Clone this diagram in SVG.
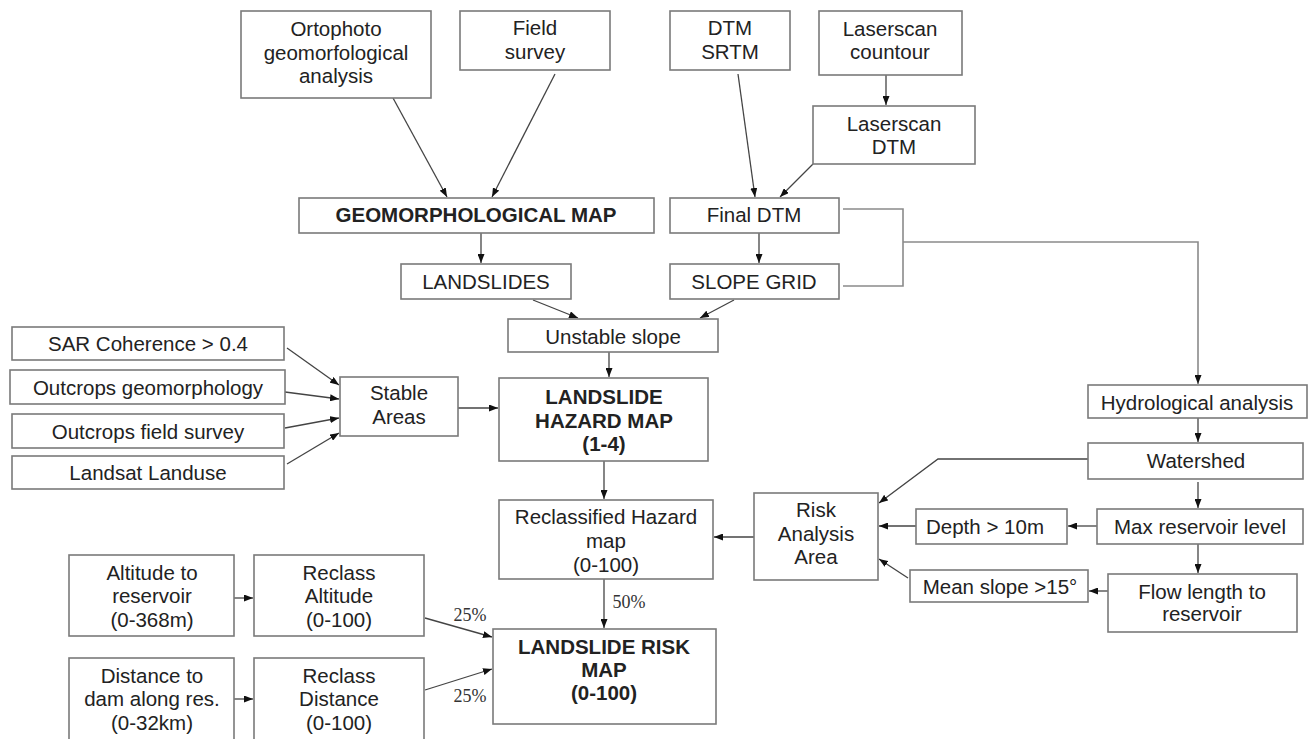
<svg xmlns="http://www.w3.org/2000/svg" width="1309" height="739" viewBox="0 0 1309 739">
<style>
  .box { fill: #ffffff; stroke: #7a7a7a; stroke-width: 1.6; }
  .t { font-family: "Liberation Sans", Arial, sans-serif; font-size: 20.5px; fill: #222222; text-anchor: middle; }
  .b { font-weight: bold; }
  .pct { font-family: "Liberation Serif", "Times New Roman", serif; font-size: 18px; fill: #333333; text-anchor: middle; }
  .c { fill: none; stroke: #444444; stroke-width: 1.3; }
  .a { marker-end: url(#arr); }
  .g { stroke: #8a8a8a; stroke-width: 1.6; }
</style>
<defs>
  <marker id="arr" markerUnits="userSpaceOnUse" markerWidth="9" markerHeight="7" refX="9" refY="3.5" orient="auto">
    <path d="M0,0 L9,3.5 L0,7 z" fill="#111111"/>
  </marker>
</defs>
<rect width="1309" height="739" fill="#ffffff"/>

<g id="connectors">
  <path class="c a" d="M393,98 L447,197"/>
  <path class="c a" d="M555,74 L492,197"/>
  <path class="c a" d="M738,74 L755,197"/>
  <path class="c a" d="M813,164 L780,197"/>
  <path class="c a" d="M886,75 L886,105"/>
  <path class="c a" d="M481,233 L481,263"/>
  <path class="c a" d="M759,233 L759,263"/>
  <path class="c a" d="M533,300 L578,318"/>
  <path class="c a" d="M734,300 L700,318"/>
  <path class="c a" d="M609,352 L609,377"/>
  <path class="c a" d="M287,348 L339,385"/>
  <path class="c a" d="M285,392 L339,399"/>
  <path class="c a" d="M285,428 L339,418"/>
  <path class="c a" d="M287,464 L339,433"/>
  <path class="c a" d="M458,408 L498,408"/>
  <path class="c a" d="M604,461 L604,499"/>
  <path class="c a" d="M604,579 L604,628"/>
  <path class="c a" d="M754,537 L714,537"/>
  <path class="c a" d="M234,598 L253,598"/>
  <path class="c a" d="M234,699 L253,699"/>
  <path class="c a" d="M425,618 L492,637"/>
  <path class="c a" d="M425,690 L492,669"/>
  <path class="c g" d="M843,209 L903,209 L903,286 L843,286"/>
  <path class="c g a" d="M903,242 L1198,242 L1198,384"/>
  <path class="c a" d="M1198,418 L1198,442"/>
  <path class="c a" d="M1088,459 L938,459 L879,503"/>
  <path class="c a" d="M1198,482 L1198,508"/>
  <path class="c a" d="M1097,526 L1068,526"/>
  <path class="c a" d="M916,526 L879,526"/>
  <path class="c a" d="M1198,544 L1198,573"/>
  <path class="c a" d="M1108,591 L1089,591"/>
  <path class="c a" d="M908,578 L879,559"/>
</g>

<g id="labels">
  <text class="pct" x="470" y="621">25%</text>
  <text class="pct" x="470" y="702">25%</text>
  <text class="pct" x="629" y="608">50%</text>
</g>

<g id="ortophoto"><rect class="box" x="241" y="11" width="190" height="87"/>
  <text class="t" x="336" y="36">Ortophoto</text><text class="t" x="336" y="60">geomorfological</text><text class="t" x="336" y="83">analysis</text></g>
<g id="field-survey"><rect class="box" x="460" y="11" width="150" height="59"/>
  <text class="t" x="535" y="35">Field</text><text class="t" x="535" y="59">survey</text></g>
<g id="dtm-srtm"><rect class="box" x="670" y="11" width="120" height="59"/>
  <text class="t" x="730" y="35">DTM</text><text class="t" x="730" y="59">SRTM</text></g>
<g id="laserscan-countour"><rect class="box" x="819" y="11" width="143" height="64"/>
  <text class="t" x="890" y="36">Laserscan</text><text class="t" x="890" y="59">countour</text></g>
<g id="laserscan-dtm"><rect class="box" x="813" y="106" width="162" height="58"/>
  <text class="t" x="894" y="131">Laserscan</text><text class="t" x="894" y="154">DTM</text></g>
<g id="geomorph-map"><rect class="box" x="299" y="198" width="355" height="35"/>
  <text class="t b" x="476" y="222">GEOMORPHOLOGICAL MAP</text></g>
<g id="final-dtm"><rect class="box" x="670" y="198" width="169" height="35"/>
  <text class="t" x="754" y="222">Final DTM</text></g>
<g id="landslides"><rect class="box" x="401" y="264" width="170" height="35"/>
  <text class="t" x="486" y="289">LANDSLIDES</text></g>
<g id="slope-grid"><rect class="box" x="670" y="264" width="169" height="35"/>
  <text class="t" x="754" y="289">SLOPE GRID</text></g>
<g id="unstable-slope"><rect class="box" x="508" y="319" width="210" height="33"/>
  <text class="t" x="613" y="344">Unstable slope</text></g>
<g id="sar"><rect class="box" x="12" y="327" width="272" height="33"/>
  <text class="t" x="148" y="351">SAR Coherence &gt; 0.4</text></g>
<g id="outcrops-geo"><rect class="box" x="10" y="370" width="275" height="34"/>
  <text class="t" x="148" y="395">Outcrops geomorphology</text></g>
<g id="outcrops-field"><rect class="box" x="12" y="414" width="272" height="34"/>
  <text class="t" x="148" y="439">Outcrops field survey</text></g>
<g id="landsat"><rect class="box" x="12" y="456" width="272" height="33"/>
  <text class="t" x="148" y="480">Landsat Landuse</text></g>
<g id="stable-areas"><rect class="box" x="340" y="377" width="118" height="59"/>
  <text class="t" x="399" y="400">Stable</text><text class="t" x="399" y="424">Areas</text></g>
<g id="hazard-map"><rect class="box" x="499" y="378" width="209" height="83"/>
  <text class="t b" x="604" y="404">LANDSLIDE</text><text class="t b" x="604" y="428">HAZARD MAP</text><text class="t b" x="604" y="451">(1-4)</text></g>
<g id="reclassified"><rect class="box" x="499" y="500" width="214" height="79"/>
  <text class="t" x="606" y="524">Reclassified Hazard</text><text class="t" x="606" y="548">map</text><text class="t" x="606" y="572">(0-100)</text></g>
<g id="risk-map"><rect class="box" x="493" y="629" width="223" height="95"/>
  <text class="t b" x="604" y="654">LANDSLIDE RISK</text><text class="t b" x="604" y="677">MAP</text><text class="t b" x="604" y="700">(0-100)</text></g>
<g id="risk-analysis"><rect class="box" x="754" y="493" width="124" height="87"/>
  <text class="t" x="816" y="517">Risk</text><text class="t" x="816" y="541">Analysis</text><text class="t" x="816" y="564">Area</text></g>
<g id="altitude"><rect class="box" x="69" y="555" width="165" height="81"/>
  <text class="t" x="152" y="580">Altitude to</text><text class="t" x="152" y="603">reservoir</text><text class="t" x="152" y="627">(0-368m)</text></g>
<g id="reclass-altitude"><rect class="box" x="254" y="555" width="170" height="81"/>
  <text class="t" x="339" y="580">Reclass</text><text class="t" x="339" y="603">Altitude</text><text class="t" x="339" y="627">(0-100)</text></g>
<g id="distance"><rect class="box" x="69" y="658" width="165" height="90"/>
  <text class="t" x="152" y="683">Distance to</text><text class="t" x="152" y="706">dam along res.</text><text class="t" x="152" y="730">(0-32km)</text></g>
<g id="reclass-distance"><rect class="box" x="254" y="658" width="170" height="90"/>
  <text class="t" x="339" y="683">Reclass</text><text class="t" x="339" y="706">Distance</text><text class="t" x="339" y="730">(0-100)</text></g>
<g id="hydrological"><rect class="box" x="1088" y="385" width="219" height="33"/>
  <text class="t" x="1197" y="410">Hydrological analysis</text></g>
<g id="watershed"><rect class="box" x="1088" y="443" width="215" height="36"/>
  <text class="t" x="1196" y="468">Watershed</text></g>
<g id="max-reservoir"><rect class="box" x="1097" y="509" width="206" height="35"/>
  <text class="t" x="1200" y="534">Max reservoir level</text></g>
<g id="depth"><rect class="box" x="916" y="509" width="151" height="35"/>
  <text class="t" x="985" y="534">Depth &gt; 10m</text></g>
<g id="mean-slope"><rect class="box" x="910" y="570" width="178" height="32"/>
  <text class="t" x="1000" y="594">Mean slope &gt;15°</text></g>
<g id="flow-length"><rect class="box" x="1108" y="574" width="189" height="58"/>
  <text class="t" x="1202" y="599">Flow length to</text><text class="t" x="1202" y="621">reservoir</text></g>
</svg>
